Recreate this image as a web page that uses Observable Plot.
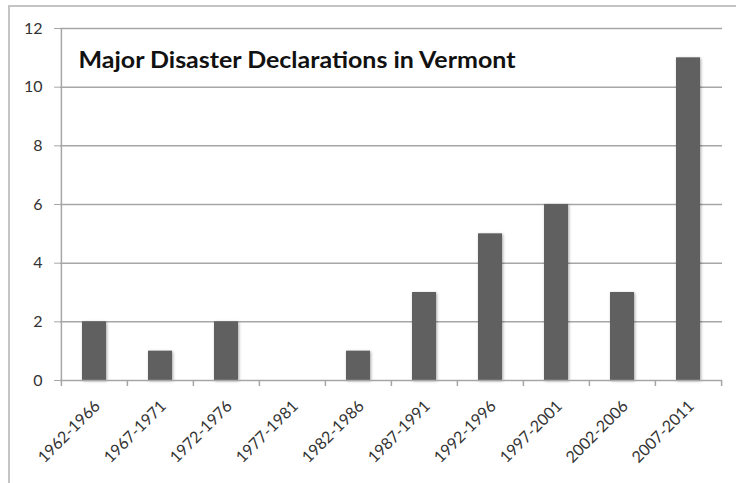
<!DOCTYPE html>
<html>
<head>
<meta charset="utf-8">
<script src="https://cdn.jsdelivr.net/npm/d3@7"></script>
<script src="https://cdn.jsdelivr.net/npm/@observablehq/plot@0.6"></script>
<style>
  html, body { margin: 0; padding: 0; background: #fff; }
  #wrap { position: relative; width: 736px; height: 483px; overflow: hidden; }
  #border { position: absolute; left: 8px; top: 5px; width: 760px; height: 520px;
            border-left: 2px solid #c4c4c4; border-top: 2px solid #c4c4c4; box-sizing: border-box; }
  #chart { position: absolute; left: 0; top: 0; }
</style>
</head>
<body>
<div id="wrap"><div id="border"></div><div id="chart"></div></div>
<script>
const title = "Major Disaster Declarations in Vermont";
const periods = ["1962-1966","1967-1971","1972-1976","1977-1981","1982-1986","1987-1991","1992-1996","1997-2001","2002-2006","2007-2011"];
const declarations = [2, 1, 2, 0, 1, 3, 5, 6, 3, 11];
const yTicks = [0, 2, 4, 6, 8, 10, 12];

const data = periods.map((p, i) => ({period: p, value: declarations[i]}));
const W = 736, H = 483, mL = 60, mR = 14, mT = 28, mB = 103;
const step = (W - mL - mR) / periods.length;

const chart = Plot.plot({
  width: W, height: H,
  marginLeft: mL, marginRight: mR, marginTop: mT, marginBottom: mB,
  style: {fontFamily: "Lato, sans-serif", fontSize: "16px", color: "#333", background: "transparent"},
  x: {domain: periods, paddingInner: 0.636, paddingOuter: 0.318, label: null},
  y: {domain: [0, 12], label: null},
  marks: [
    Plot.gridY(yTicks.filter(d => d > 0), {stroke: "#a6a6a6", strokeOpacity: 1, strokeWidth: 1.5}),
    Plot.barY(data, {x: "period", y: "value", fill: "#606060"}),
    Plot.ruleY([0], {stroke: "#a6a6a6", strokeWidth: 1.5}),
    Plot.ruleX([0], {x: () => periods[0], dx: -step / 2, y1: 0, y2: 12, stroke: "#a6a6a6", strokeWidth: 1.5}),
    Plot.ruleX(periods, {x: d => d, dx: -step / 2, y1: 0, y2: 0, insetBottom: -6, stroke: "#a6a6a6", strokeWidth: 1.5}),
    Plot.ruleX([periods[periods.length - 1]], {x: d => d, dx: step / 2, y1: 0, y2: 0, insetBottom: -6, stroke: "#a6a6a6", strokeWidth: 1.5}),
    Plot.axisY({ticks: yTicks, tickSize: 6, tickPadding: 12, stroke: "#a6a6a6", fill: "#333", fontSize: 16}),
    Plot.axisX({tickSize: 0, tickRotate: -45, tickPadding: 23, dx: 3, fill: "#333", fontSize: 16}),
    Plot.text([title], {frameAnchor: "top-left", text: d => d, dx: 18, dy: 24, lineAnchor: "top",
      textAnchor: "start", fontWeight: "bold", fontSize: 22, fill: "#111"})
  ]
});
d3.select(chart).selectAll("g[aria-label='bar'] rect")
  .style("filter", "drop-shadow(1.5px 1.5px 1.5px rgba(0,0,0,0.35))");
d3.select(chart).selectAll("g[aria-label='text'] text")
  .attr("textLength", 437).attr("lengthAdjust", "spacingAndGlyphs");
document.getElementById("chart").appendChild(chart);
</script>
</body>
</html>
